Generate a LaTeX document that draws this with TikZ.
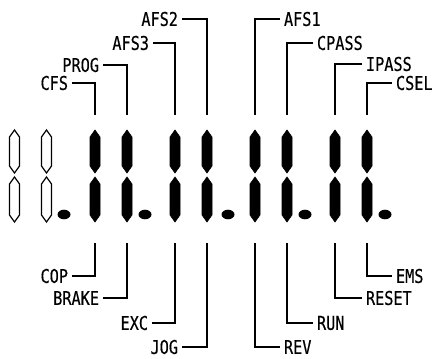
\documentclass[tikz,border=0pt]{standalone}
\usepackage{fontspec}
\newfontfamily\lblfont[FakeStretch=0.8,FakeBold=0.4]{DejaVu Sans Mono}
\usetikzlibrary{calc}
\tikzset{
  lbltext/.style={font=\lblfont\fontsize{19}{19}\selectfont,inner sep=0pt,outer xsep=4pt},
  leadline/.style={line width=1.6pt},
  segon/.style={fill=black,draw=black,line width=0.6pt,line join=miter},
  segoff/.style={fill=white,draw=black,line width=1.2pt,line join=miter},
  dotseg/.style={fill=black}
}
% one bar of a digit: style, x, top y, bottom y
\newcommand{\segbar}[4]{%
  \draw[#1] (#2,#3) -- (#2+5,#3+7) -- (#2+5,#4-7) -- (#2,#4) -- (#2-5,#4-7) -- (#2-5,#3+7) -- cycle;}

\begin{document}
\begin{tikzpicture}[x=1pt,y=-1pt]
  \useasboundingbox (0,0) rectangle (435,358);

  %% digit bars
  \foreach \x in {14.5,46.5} {
    \segbar{segoff}{\x}{130}{173}
    \segbar{segoff}{\x}{177}{222}
  }
  \foreach \x/\n in {95/a,127/b,175/c,207/d,255/e,287/f,335/g,367/h} {
    \segbar{segon}{\x}{130}{173}
    \segbar{segon}{\x}{177}{222}
    \coordinate (up\n) at (\x,115);
    \coordinate (dn\n) at (\x,243);
  }
  \foreach \x in {64,145,228,305,385}
    \fill[dotseg] (\x,214.5) ellipse [x radius=6.5,y radius=4.8];

  %% upper labels
  \node[lbltext,anchor=east] (cfs)   at (72,83)  {CFS};
  \node[lbltext,anchor=east] (prog)  at (103,65) {PROG};
  \node[lbltext,anchor=east] (afs3)  at (153,43) {AFS3};
  \node[lbltext,anchor=east] (afs2)  at (182,19) {AFS2};
  \node[lbltext,anchor=west] (afs1)  at (280,19) {AFS1};
  \node[lbltext,anchor=west] (cpass) at (313,43) {CPASS};
  \node[lbltext,anchor=west] (ipass) at (362,64) {IPASS};
  \node[lbltext,anchor=west] (csel)  at (392,83) {CSEL};

  \draw[leadline] (cfs.east) -| (upa);
  \draw[leadline] (prog.east) -| (upb);
  \draw[leadline] (afs3.east) -| (upc);
  \draw[leadline] (afs2.east) -| (upd);
  \draw[leadline] (afs1.west) -| (upe);
  \draw[leadline] (cpass.west) -| (upf);
  \draw[leadline] (ipass.west) -| (upg);
  \draw[leadline] (csel.west) -| (uph);

  %% lower labels
  \node[lbltext,anchor=east] (cop)   at (72,276)  {COP};
  \node[lbltext,anchor=east] (brake) at (103,298) {BRAKE};
  \node[lbltext,anchor=east] (exc)   at (152,323) {EXC};
  \node[lbltext,anchor=east] (jog)   at (182,347) {JOG};
  \node[lbltext,anchor=west] (rev)   at (280,347) {REV};
  \node[lbltext,anchor=west] (run)   at (313,323) {RUN};
  \node[lbltext,anchor=west] (reset) at (362,298) {RESET};
  \node[lbltext,anchor=west] (ems)   at (392,276) {EMS};

  \draw[leadline] (cop.east) -| (dna);
  \draw[leadline] (brake.east) -| (dnb);
  \draw[leadline] (exc.east) -| (dnc);
  \draw[leadline] (jog.east) -| (dnd);
  \draw[leadline] (rev.west) -| (dne);
  \draw[leadline] (run.west) -| (dnf);
  \draw[leadline] (reset.west) -| (dng);
  \draw[leadline] (ems.west) -| (dnh);
\end{tikzpicture}
\end{document}
